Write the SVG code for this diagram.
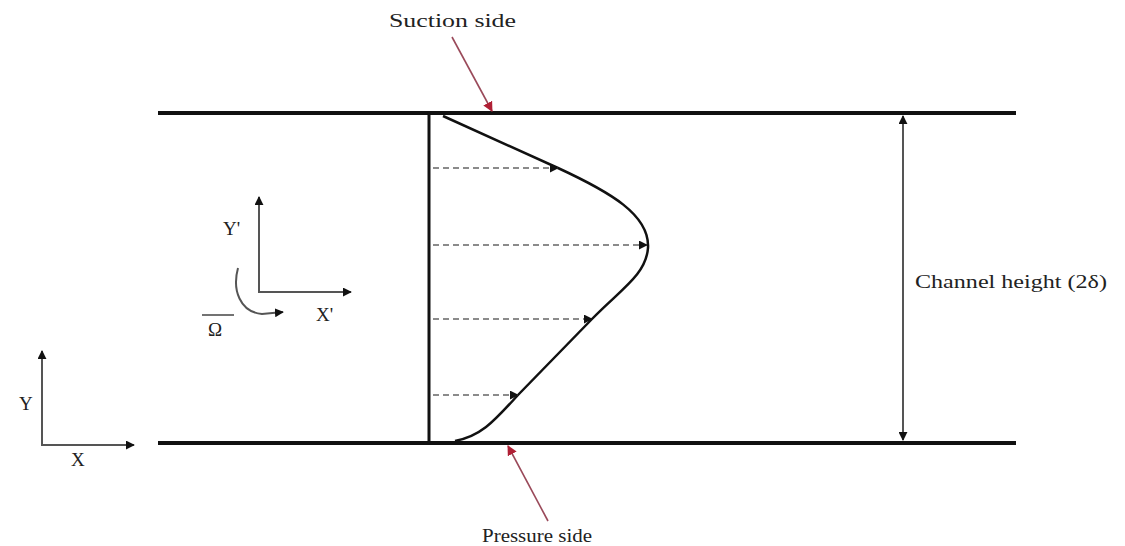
<svg xmlns="http://www.w3.org/2000/svg" width="1125" height="546" viewBox="0 0 1125 546">
<style>
text{font-family:"Liberation Serif","Times New Roman",serif;fill:#222;}
.lbl{font-size:19px;}
.wall{stroke:#111;stroke-width:4;fill:none;}
.ax{stroke:#555;stroke-width:2;fill:none;}
.dash{stroke:#666;stroke-width:1.6;stroke-dasharray:6,4;fill:none;}
.red{stroke:#9a4a5a;stroke-width:1.6;fill:none;}
</style>
<defs>
<marker id="ah" viewBox="0 0 10 10" refX="9" refY="5" markerWidth="9" markerHeight="9" markerUnits="userSpaceOnUse" orient="auto"><path d="M0,0 L10,5 L0,10 Z" fill="#111"/></marker>
<marker id="ahr" viewBox="0 0 10 10" refX="9" refY="5" markerWidth="10" markerHeight="10" markerUnits="userSpaceOnUse" orient="auto"><path d="M0,0 L10,5 L0,10 Z" fill="#b02035"/></marker>
</defs>
<rect width="1125" height="546" fill="#fff"/>
<g id="walls">
<line class="wall" x1="158" y1="113" x2="1016" y2="113"/>
<line class="wall" x1="158" y1="443" x2="1016" y2="443"/>
<line x1="429" y1="113" x2="429" y2="443" stroke="#111" stroke-width="3"/>
</g>
<g id="profile">
<path d="M443,116 L558,168 C610,192 650,215 648,248 C646,275 620,290 592,319 L518,395 C495,420 482,436 455,441" stroke="#111" stroke-width="2.5" fill="none"/>
</g>
<g id="connectors">
<line class="dash" x1="433" y1="168" x2="558" y2="168" marker-end="url(#ah)"/>
<line class="dash" x1="433" y1="245" x2="647" y2="245" marker-end="url(#ah)"/>
<line class="dash" x1="433" y1="319" x2="592" y2="319" marker-end="url(#ah)"/>
<line class="dash" x1="433" y1="395" x2="518" y2="395" marker-end="url(#ah)"/>
<line class="red" x1="452" y1="37" x2="492" y2="111" marker-end="url(#ahr)"/>
<line class="red" x1="548" y1="521" x2="508" y2="446" marker-end="url(#ahr)"/>
<line class="ax" x1="903" y1="250" x2="903" y2="116" marker-end="url(#ah)"/>
<line class="ax" x1="903" y1="250" x2="903" y2="440" marker-end="url(#ah)"/>
</g>
<g id="rotating-axes">
<line class="ax" x1="259" y1="293" x2="259" y2="197" marker-end="url(#ah)"/>
<line class="ax" x1="258" y1="292" x2="351" y2="292" marker-end="url(#ah)"/>
<path class="ax" d="M238,268 C232,290 240,312 262,314 L283,312" marker-end="url(#ah)"/>
<line x1="202" y1="315" x2="234" y2="315" stroke="#444" stroke-width="1.5"/>
<text class="lbl" x="223" y="235" font-size="17">Y'</text>
<text class="lbl" x="316" y="321" font-size="17">X'</text>
<text class="lbl" x="208" y="336" font-size="17">Ω</text>
</g>
<g id="fixed-axes">
<line class="ax" x1="42" y1="446" x2="42" y2="351" marker-end="url(#ah)"/>
<line class="ax" x1="41" y1="445" x2="134" y2="445" marker-end="url(#ah)"/>
<text class="lbl" x="19" y="410" font-size="17">Y</text>
<text class="lbl" x="71" y="466" font-size="17">X</text>
</g>
<g id="labels">
<text class="lbl" x="389" y="27" textLength="127" lengthAdjust="spacingAndGlyphs">Suction side</text>
<text class="lbl" x="482" y="542" textLength="110" lengthAdjust="spacingAndGlyphs">Pressure side</text>
<text class="lbl" x="915" y="288" textLength="192" lengthAdjust="spacingAndGlyphs">Channel height (2δ)</text>
</g>
</svg>
